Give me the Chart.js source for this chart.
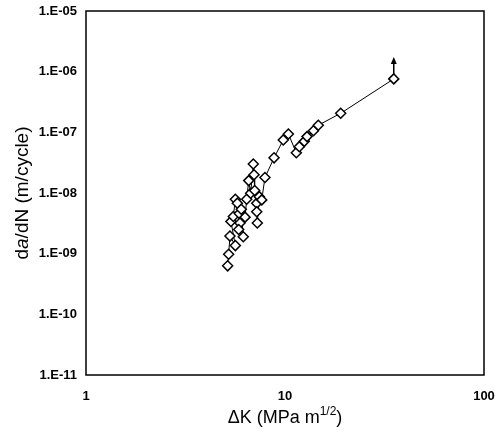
<!DOCTYPE html>
<html>
<head>
<meta charset="utf-8">
<script src="https://cdn.jsdelivr.net/npm/chart.js@4"></script>
<style>
  html, body { margin: 0; padding: 0; background: #fff; }
  #wrap { width: 502px; height: 440px; }
</style>
</head>
<body>
<div id="wrap"><canvas id="crackChart" width="502" height="440"></canvas></div>
<script>
// Données
const deltaK = [5.15, 5.21, 5.29, 5.63, 5.35, 5.50, 5.63, 5.76, 5.89, 5.94, 5.85, 6.17, 6.03, 6.30,
  6.42, 6.57, 6.72, 6.93, 6.99, 7.04, 7.21, 7.21, 7.26, 7.43, 7.64, 7.93, 8.81, 9.80, 10.4,
  11.4, 11.8, 12.5, 12.9, 13.9, 14.7, 19.05, 35.2];
const dadN = [6.3e-10, 9.8e-10, 1.95e-9, 1.36e-9, 3.4e-9, 4.1e-9, 7.9e-9, 6.8e-9, 4.6e-9, 3.2e-9, 2.5e-9, 1.9e-9, 5.4e-9, 4.0e-9,
  7.9e-9, 1.6e-8, 9.9e-9, 3.0e-8, 2.0e-8, 1.1e-8, 6.8e-9, 4.9e-9, 3.2e-9, 8.7e-9, 7.7e-9, 1.8e-8, 3.8e-8, 7.5e-8, 9.4e-8,
  4.6e-8, 5.8e-8, 7.1e-8, 8.5e-8, 1.06e-7, 1.31e-7, 2.06e-7, 7.6e-7];
// Flèche sur le dernier point (valeur de la pointe)
const arrowTip = 1.75e-6;
const xTicks = [1, 10, 100];
const yTicks = [1e-11, 1e-10, 1e-9, 1e-8, 1e-7, 1e-6, 1e-5];

const points = deltaK.map((k, i) => ({ x: k, y: dadN[i] }));

const FONT = '"Liberation Sans", Arial, sans-serif';

// Cadre, flèche et titres des axes
const decorPlugin = {
  id: 'decor',
  afterDraw(chart) {
    const ctx = chart.ctx;
    const area = chart.chartArea;
    const sx = chart.scales.x;
    const sy = chart.scales.y;
    ctx.save();
    ctx.strokeStyle = '#000';
    ctx.lineWidth = 1.5;
    ctx.strokeRect(area.left, area.top, area.right - area.left, area.bottom - area.top);

    // flèche
    const last = points[points.length - 1];
    const ax = sx.getPixelForValue(last.x);
    const ay0 = sy.getPixelForValue(last.y) - 5;
    const ay1 = sy.getPixelForValue(arrowTip);
    ctx.lineWidth = 1.5;
    ctx.beginPath();
    ctx.moveTo(ax, ay0);
    ctx.lineTo(ax, ay1 + 4);
    ctx.stroke();
    ctx.fillStyle = '#000';
    ctx.beginPath();
    ctx.moveTo(ax, ay1);
    ctx.lineTo(ax - 3, ay1 + 7);
    ctx.lineTo(ax + 3, ay1 + 7);
    ctx.closePath();
    ctx.fill();

    // titre axe x : ΔK (MPa m^1/2)
    ctx.fillStyle = '#000';
    ctx.textBaseline = 'alphabetic';
    const xMain = '\u0394K (MPa m';
    const xSup = '1/2';
    const big = '18px ' + FONT;
    const small = '12px ' + FONT;
    ctx.font = big;
    const w1 = ctx.measureText(xMain).width;
    const w3 = ctx.measureText(')').width;
    ctx.font = small;
    const w2 = ctx.measureText(xSup).width;
    const cx = (area.left + area.right) / 2;
    const tx = cx - (w1 + w2 + w3) / 2;
    const base = 423;
    ctx.font = big;
    ctx.fillText(xMain, tx, base);
    ctx.font = small;
    ctx.fillText(xSup, tx + w1, base - 8);
    ctx.font = big;
    ctx.fillText(')', tx + w1 + w2, base);

    // titre axe y : da/dN (m/cycle)
    const parts = [
      { t: 'd', f: '19px ' + FONT },
      { t: 'a', f: 'italic 19px ' + FONT },
      { t: '/dN (m/cycle)', f: '19px ' + FONT }
    ];
    let total = 0;
    parts.forEach(p => { ctx.font = p.f; p.w = ctx.measureText(p.t).width; total += p.w; });
    ctx.translate(28, (area.top + area.bottom) / 2);
    ctx.rotate(-Math.PI / 2);
    let px = -total / 2;
    parts.forEach(p => { ctx.font = p.f; ctx.fillText(p.t, px, 0); px += p.w; });
    ctx.restore();
  }
};

const tickFont = { family: FONT, size: 13, weight: 'bold' };

const config = {
  type: 'scatter',
  data: {
    datasets: [{
      data: points,
      showLine: true,
      borderColor: '#000',
      borderWidth: 1,
      pointStyle: 'rectRot',
      pointRadius: 5,
      pointBorderWidth: 1.5,
      pointBackgroundColor: '#fff',
      pointBorderColor: '#000'
    }]
  },
  plugins: [decorPlugin],
  options: {
    responsive: false,
    animation: false,
    layout: { padding: { top: 11, right: 18, left: 0, bottom: 0 } },
    plugins: { legend: { display: false }, tooltip: { enabled: false } },
    scales: {
      x: {
        type: 'logarithmic',
        min: 1, max: 100,
        afterBuildTicks: s => { s.ticks = xTicks.map(v => ({ value: v })); },
        afterFit: s => { s.height = 65; s.paddingLeft = 0; s.paddingRight = 0; },
        grid: { display: false, drawTicks: false },
        border: { display: false },
        ticks: {
          font: tickFont, color: '#000', padding: 14, maxRotation: 0,
          callback: v => String(v)
        }
      },
      y: {
        type: 'logarithmic',
        min: 1e-11, max: 1e-5,
        afterBuildTicks: s => { s.ticks = yTicks.map(v => ({ value: v })); },
        afterFit: s => { s.width = 86; s.paddingTop = 0; s.paddingBottom = 0; },
        grid: { display: false, drawTicks: false },
        border: { display: false },
        ticks: {
          font: tickFont, color: '#000', padding: 9,
          callback: v => {
            const e = Math.round(Math.log10(v));
            return '1.E' + (e < 0 ? '-' : '+') + String(Math.abs(e)).padStart(2, '0');
          }
        }
      }
    }
  }
};

new Chart(document.getElementById('crackChart').getContext('2d'), config);
</script>
</body>
</html>
